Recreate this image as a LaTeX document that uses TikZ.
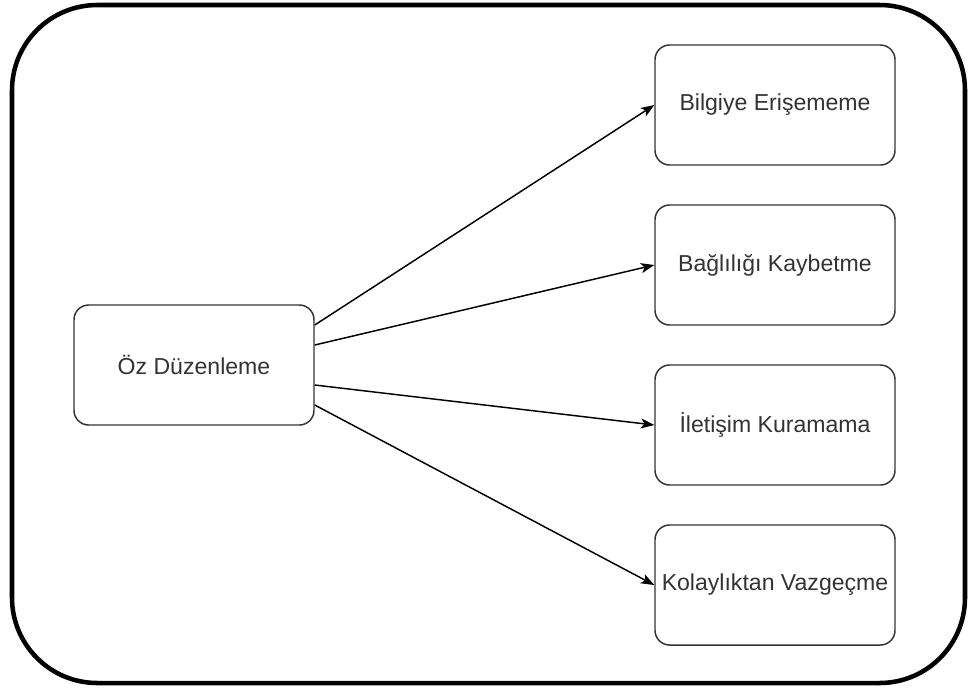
\documentclass[tikz,border=0pt]{standalone}
\usepackage{fontspec}
\setmainfont{Liberation Sans}
\usetikzlibrary {arrows.meta, positioning}

\begin{document}
\begin{tikzpicture}[x=0.75pt,y=-0.75pt,node distance=120pt,on grid,>={Stealth[length=10pt,width=7.5pt,inset=2.5pt]},
      box/.style={draw=black!80,line width=1.1pt,rounded corners=11pt,minimum width=180pt,minimum height=90pt,
        inner sep=0pt,text=black!80,font=\fontsize{17.3}{20}\selectfont},
      link/.style={->,line width=1.1pt}]
      \useasboundingbox (0,0) rectangle (970,687);
      \draw[line width=3.4pt,rounded corners=64pt] (12,5) rectangle (965,683);
      \node[box]   (oz) at (194,365) {Öz Düzenleme};
      \node[box]   (bilgi) at (775,105) {Bilgiye Erişememe};
      \node[box]   (bag) [below=of bilgi] {Bağlılığı Kaybetme};
      \node[box]   (ileti) [below=of bag] {İletişim Kuramama};
      \node[box]   (kolay) [below=of ileti] {Kolaylıktan Vazgeçme};
      \draw[link] ([yshift=30pt]oz.east) -- (bilgi.west);
      \draw[link] ([yshift=15pt]oz.east) -- (bag.west);
      \draw[link] ([yshift=-15pt]oz.east) -- (ileti.west);
      \draw[link] ([yshift=-30pt]oz.east) -- (kolay.west);
    \end{tikzpicture}
\end{document}
